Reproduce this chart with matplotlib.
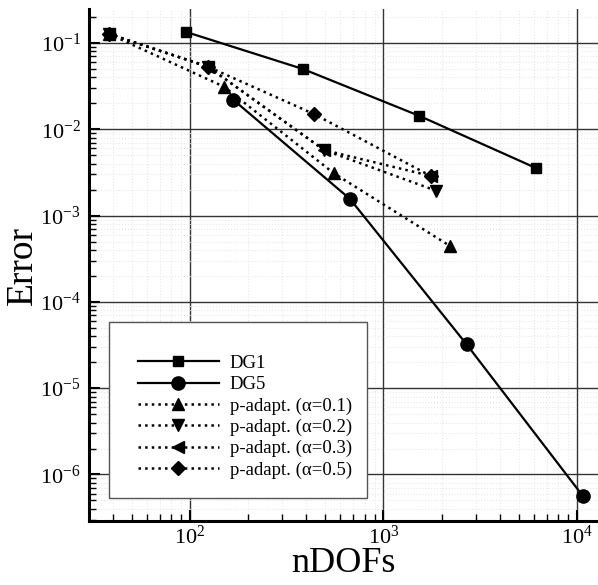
import matplotlib
matplotlib.use('Agg')
import matplotlib.pyplot as plt
from matplotlib.patches import Rectangle

plt.rcParams['font.family'] = 'serif'
plt.rcParams['font.serif'] = ['Liberation Serif', 'DejaVu Serif']
plt.rcParams['mathtext.fontset'] = 'stix'

# data
dg1_dofs = [96, 384, 1536, 6144]
dg1_err = [0.134, 0.050, 0.0143, 3.56e-3]

dg5_dofs = [168, 672, 2688, 10752]
dg5_err = [0.0219, 1.56e-3, 3.23e-5, 5.6e-7]

pa01_dofs = [38, 150, 555, 2208]
pa01_err = [0.128, 0.0312, 3.09e-3, 4.45e-4]

pa02_dofs = [38, 124, 494, 1866]
pa02_err = [0.128, 0.0532, 5.75e-3, 1.95e-3]

pa03_dofs = [38, 124, 494, 1758]
pa03_err = [0.128, 0.0532, 5.75e-3, 2.88e-3]

pa05_dofs = [38, 124, 439, 1758]
pa05_err = [0.128, 0.0532, 0.0150, 2.88e-3]

fig = plt.figure(figsize=(5.98, 5.85), dpi=100)
ax = fig.add_axes([0.1488, 0.1094, 0.8512, 0.8752])

ax.set_xscale('log')
ax.set_yscale('log')
ax.set_xlim(30.1, 12850)
ax.set_ylim(2.89e-7, 0.248)

# grid
ax.grid(which='major', color='#333333', linestyle='-', linewidth=1.0, zorder=0)
ax.grid(which='minor', color='#e8e8e8', linestyle=':', linewidth=0.8, zorder=0)
ax.set_axisbelow(True)

ax.plot(dg1_dofs, dg1_err, 'k-', marker='s', ms=7.5, lw=1.6, label='DG1', zorder=3)
ax.plot(dg5_dofs, dg5_err, 'k-', marker='o', ms=9.5, lw=1.6, label='DG5', zorder=3)
ax.plot(pa01_dofs, pa01_err, 'k:', marker='^', ms=8, lw=1.8, label='p-adapt. (α=0.1)', zorder=3)
ax.plot(pa02_dofs, pa02_err, 'k:', marker='v', ms=8, lw=1.8, label='p-adapt. (α=0.2)', zorder=3)
ax.plot(pa03_dofs, pa03_err, 'k:', marker='<', ms=8, lw=1.8, label='p-adapt. (α=0.3)', zorder=3)
ax.plot(pa05_dofs, pa05_err, 'k:', marker='D', ms=7, lw=1.8, label='p-adapt. (α=0.5)', zorder=3)

# spines
for s in ['top', 'right']:
    ax.spines[s].set_visible(False)
for s in ['left', 'bottom']:
    ax.spines[s].set_linewidth(2.2)

ax.tick_params(which='major', direction='in', length=8, width=1.5, labelsize=16)
ax.tick_params(which='minor', direction='in', length=5, width=1.0)
ax.tick_params(axis='x', which='major', pad=3)
ax.tick_params(axis='y', which='major', pad=6)

ax.set_xlabel('nDOFs', fontsize=26, labelpad=-1)
ax.set_ylabel('Error', fontsize=27, labelpad=0)

# legend box
box = Rectangle((0.039, 0.045), 0.507, 0.344, transform=ax.transAxes,
                facecolor='white', edgecolor='#555555', linewidth=1.0, zorder=4)
ax.add_patch(box)
leg = ax.legend(loc='upper left', bbox_to_anchor=(0.078, 0.343), frameon=False,
                fontsize=13.5, handlelength=4.3, handletextpad=0.6,
                labelspacing=0.22, borderpad=0)
leg.set_zorder(5)

plt.savefig('out.png', dpi=100)
